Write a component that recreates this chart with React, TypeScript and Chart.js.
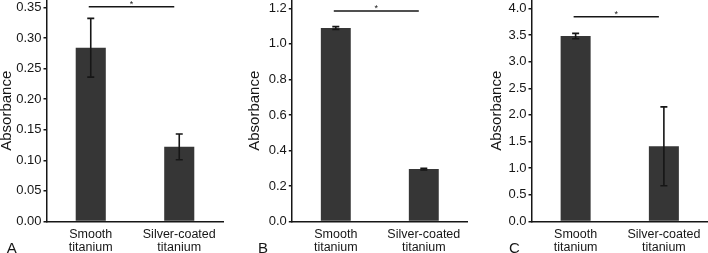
import React, { useEffect, useRef } from "react";
import { Chart, registerables } from "chart.js";

Chart.register(...registerables);

// ---------- data ----------
const categories = [
  ["Smooth", "titanium"],
  ["Silver-coated", "titanium"],
];

const meansA = [0.284, 0.122];
const errorsA = [0.048, 0.021];
const ticksA = [0, 0.05, 0.1, 0.15, 0.2, 0.25, 0.3, 0.35];
const axisMaxA = 0.362;
const sigLevelA = 0.351;

const meansB = [1.089, 0.295];
const errorsB = [0.008, 0.005];
const ticksB = [0, 0.2, 0.4, 0.6, 0.8, 1.0, 1.2];
const axisMaxB = 1.247;
const sigLevelB = 1.185;

const meansC = [3.48, 1.41];
const errorsC = [0.05, 0.74];
const ticksC = [0, 0.5, 1.0, 1.5, 2.0, 2.5, 3.0, 3.5, 4.0];
const axisMaxC = 4.156;
const sigLevelC = 3.844;

const panelLetters = ["A", "B", "C"];
const yTitle = "Absorbance";
const sigMark = "*";

// ---------- styling ----------
const FONT = "'Liberation Sans', Arial, Helvetica, sans-serif";
const INK = "#161616";
const BAR = "#363636";
const HEIGHT = 253;
const X_AXIS_HEIGHT = 31.5;

type PanelProps = {
  means: number[];
  errors: number[];
  ticks: number[];
  axisMax: number;
  sigLevel: number;
  decimals: number;
  left: number;
  width: number;
  yWidth: number;
  padRight: number;
};

function Panel(p: PanelProps) {
  const ref = useRef<HTMLCanvasElement | null>(null);

  useEffect(() => {
    if (!ref.current) return;

    const overlay = {
      id: "errAndSig",
      afterDatasetsDraw(chart: any) {
        const ctx = chart.ctx;
        const y = chart.scales.y;
        const meta = chart.getDatasetMeta(0);
        ctx.save();
        ctx.strokeStyle = INK;
        ctx.fillStyle = INK;
        ctx.lineWidth = 1.6;
        // error bars
        p.means.forEach((m, i) => {
          const x = meta.data[i].x;
          const yt = y.getPixelForValue(m + p.errors[i]);
          const yb = y.getPixelForValue(m - p.errors[i]);
          ctx.beginPath();
          ctx.moveTo(x, yt);
          ctx.lineTo(x, yb);
          ctx.moveTo(x - 3.5, yt);
          ctx.lineTo(x + 3.5, yt);
          ctx.moveTo(x - 3.5, yb);
          ctx.lineTo(x + 3.5, yb);
          ctx.stroke();
        });
        // significance bar
        const x0 = meta.data[0].x - 2;
        const x1 = meta.data[1].x - 5;
        const ys = y.getPixelForValue(p.sigLevel);
        ctx.lineWidth = 1.5;
        ctx.beginPath();
        ctx.moveTo(x0, ys);
        ctx.lineTo(x1, ys);
        ctx.stroke();
        ctx.font = `9px ${FONT}`;
        ctx.textAlign = "center";
        ctx.textBaseline = "middle";
        ctx.fillText(sigMark, (x0 + x1) / 2, ys - 2.5);
        ctx.restore();
      },
    };

    const chart = new Chart(ref.current, {
      type: "bar",
      data: {
        labels: categories,
        datasets: [
          {
            data: p.means,
            backgroundColor: BAR,
            borderWidth: 0,
            barPercentage: 0.34,
            categoryPercentage: 1,
          },
        ],
      },
      options: {
        responsive: false,
        animation: false,
        devicePixelRatio: 1,
        layout: { padding: { top: 0, bottom: 0, left: 0, right: p.padRight } },
        plugins: { legend: { display: false }, tooltip: { enabled: false } },
        scales: {
          x: {
            grid: { display: false, drawTicks: false },
            border: { display: true, color: INK, width: 1.5 },
            ticks: {
              color: INK,
              padding: 7,
              maxRotation: 0,
              autoSkip: false,
              font: { family: FONT, size: 12.5, lineHeight: 13 / 12.5 },
            },
            afterFit: (s: any) => {
              s.height = X_AXIS_HEIGHT;
              s.paddingLeft = 0;
              s.paddingRight = 0;
            },
          },
          y: {
            min: 0,
            max: p.axisMax,
            afterBuildTicks: (s: any) => {
              s.ticks = p.ticks.map((v) => ({ value: v }));
            },
            grid: {
              display: true,
              drawOnChartArea: false,
              drawTicks: true,
              tickLength: 3,
              color: INK,
              lineWidth: 1.5,
            },
            border: { display: true, color: INK, width: 1.5 },
            ticks: {
              color: INK,
              padding: 2,
              font: { family: FONT, size: 13 },
              callback: (v: any) => Number(v).toFixed(p.decimals),
            },
            title: {
              display: true,
              text: yTitle,
              color: INK,
              padding: { top: 0, bottom: 0 },
              font: { family: FONT, size: 15, lineHeight: 1 },
            },
            afterFit: (s: any) => {
              s.width = p.yWidth;
              s.paddingTop = 0;
              s.paddingBottom = 0;
            },
          },
        },
      },
      plugins: [overlay],
    } as any);

    return () => chart.destroy();
  }, []);

  return (
    <canvas
      ref={ref}
      width={p.width}
      height={HEIGHT}
      style={{
        position: "absolute",
        left: p.left,
        top: 0,
        width: p.width,
        height: HEIGHT,
      }}
    />
  );
}

const letterStyle = (x: number): React.CSSProperties => ({
  position: "absolute",
  left: x,
  top: 246.5,
  transform: "translate(-50%, -50%)",
  fontFamily: FONT,
  fontSize: 15,
  lineHeight: "15px",
  color: INK,
});

export default function App() {
  return (
    <div
      style={{
        position: "absolute",
        left: 0,
        top: 0,
        width: 708,
        height: HEIGHT,
        overflow: "hidden",
        background: "#ffffff",
      }}
    >
      <Panel
        means={meansA}
        errors={errorsA}
        ticks={ticksA}
        axisMax={axisMaxA}
        sigLevel={sigLevelA}
        decimals={2}
        left={-1.5}
        width={236}
        yWidth={47.5}
        padRight={11.5}
      />
      <Panel
        means={meansB}
        errors={errorsB}
        ticks={ticksB}
        axisMax={axisMaxB}
        sigLevel={sigLevelB}
        decimals={1}
        left={247.2}
        width={228}
        yWidth={44.8}
        padRight={7.2}
      />
      <Panel
        means={meansC}
        errors={errorsC}
        ticks={ticksC}
        axisMax={axisMaxC}
        sigLevel={sigLevelC}
        decimals={1}
        left={488.5}
        width={219.5}
        yWidth={42.5}
        padRight={0}
      />
      <div style={letterStyle(11.7)}>{panelLetters[0]}</div>
      <div style={letterStyle(263)}>{panelLetters[1]}</div>
      <div style={letterStyle(514.5)}>{panelLetters[2]}</div>
    </div>
  );
}
